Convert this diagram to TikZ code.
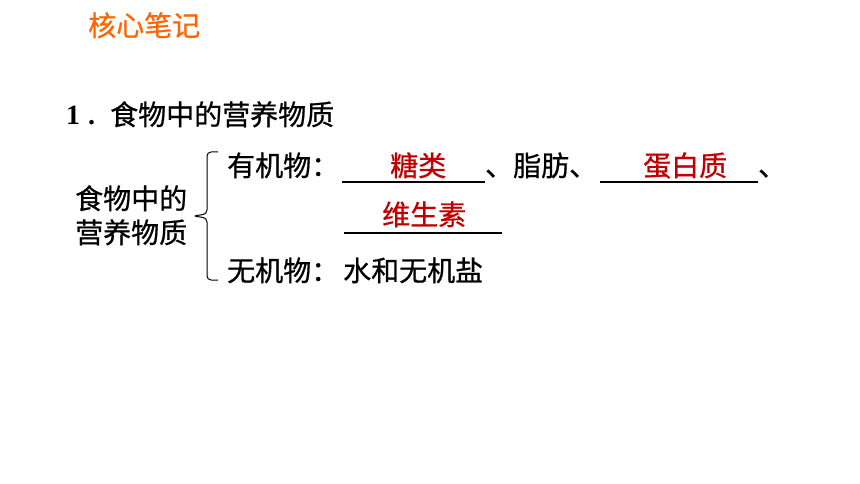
\documentclass[tikz,border=0pt]{standalone}
\usepackage{fontspec}
\setmainfont{Liberation Serif}
\newfontfamily\cjk[FakeBold=0.7]{Noto Sans CJK SC}
\definecolor{ansred}{HTML}{C00000}
\definecolor{titleor}{HTML}{FF6600}
\begin{document}
\begin{tikzpicture}[x=1pt,y=-1pt,
  txt/.style={inner sep=0pt, anchor=base west, font=\cjk\fontsize{28}{28}\selectfont},
  ans/.style={txt, text=ansred},
  uline/.style={line width=1.3pt, black},
  bracestyle/.style={line width=1pt, black, rounded corners=4pt}]
\useasboundingbox (0,0) rectangle (860,484);
\fill[white] (0,0) rectangle (860,484);
% title
\node[txt, text=titleor] (title) at (88,36) {核心笔记};
% heading
\node[inner sep=0pt, anchor=base west, font=\bfseries\fontsize{28}{28}\selectfont] (num) at (66,125) {1\hspace{8pt}.};
\node[txt] (head) at (110,125) {食物中的营养物质};
% left label
\node[txt] (lab1) at (75,209) {食物中的};
\node[txt] (lab2) at (75,243) {营养物质};
% brace
\draw[bracestyle] (218,152) -- (207,152) -- (207,214) -- (193,216) -- (207,218) -- (207,280) -- (218,280);
% row 1
\node[txt] (org) at (227,176) {有机物：};
\coordinate (u1a) at (342,182);
\coordinate (u1b) at (485,182);
\draw[uline] (u1a) -- (u1b);
\node[ans] (sugar) at (390,176) {糖类};
\node[txt] (fat) at (485,176) {、脂肪、};
\coordinate (u2a) at (600,182);
\coordinate (u2b) at (758,182);
\draw[uline] (u2a) -- (u2b);
\node[ans] (prot) at (643,176) {蛋白质};
\node[txt] (comma) at (758,176) {、};
% row 2
\coordinate (u3a) at (344,233);
\coordinate (u3b) at (502,233);
\draw[uline] (u3a) -- (u3b);
\node[ans] (vit) at (382,225) {维生素};
% row 3
\node[txt] (inorg) at (227,281) {无机物：};
\node[txt] (water) at (343,281) {水和无机盐};
\end{tikzpicture}
\end{document}
